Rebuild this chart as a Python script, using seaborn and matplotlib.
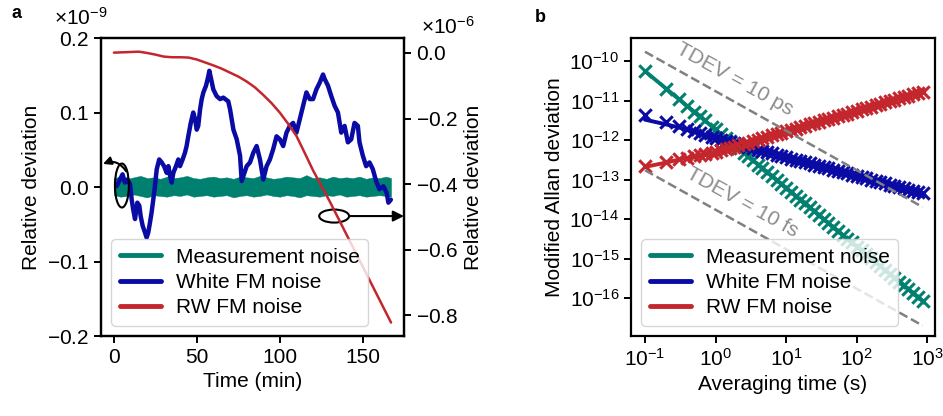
import numpy as np
import matplotlib
matplotlib.use("Agg")
import matplotlib.pyplot as plt
import seaborn as sns
from matplotlib.patches import Ellipse
from matplotlib.lines import Line2D
from matplotlib.ticker import NullLocator

# ---------------- panel a data ----------------
# measurement noise band (x1e-9): envelope of the dense white-noise trace
teal_t = [0, 4, 8, 12, 16, 20, 24, 28, 32, 36,
          40, 44, 48, 52, 56, 60, 64, 68, 72, 76,
          80, 84, 88, 92, 96, 100, 104, 108, 112, 116,
          120, 124, 128, 132, 136, 140, 144, 148, 152, 156,
          160, 164, 167]
teal_hi = [0.012, 0.014, 0.011, 0.013, 0.015, 0.012, 0.013, 0.011, 0.014, 0.012,
           0.013, 0.015, 0.012, 0.011, 0.013, 0.014, 0.012, 0.013, 0.011, 0.014,
           0.013, 0.012, 0.015, 0.013, 0.011, 0.012, 0.014, 0.013, 0.012, 0.016,
           0.012, 0.013, 0.011, 0.014, 0.012, 0.013, 0.012, 0.014, 0.011, 0.013,
           0.012, 0.014, 0.012]
teal_lo = [-0.011, -0.013, -0.012, -0.010, -0.012, -0.014, -0.011, -0.012, -0.013, -0.011,
           -0.012, -0.010, -0.013, -0.012, -0.011, -0.013, -0.012, -0.011, -0.014, -0.012,
           -0.011, -0.013, -0.012, -0.010, -0.012, -0.013, -0.011, -0.012, -0.014, -0.011,
           -0.012, -0.013, -0.011, -0.012, -0.010, -0.013, -0.012, -0.011, -0.013, -0.012,
           -0.011, -0.012, -0.013]

# white FM noise trace (x1e-9)
blue_t = [1.6, 3.6, 5.2, 6.6, 8.0, 9.7, 10.7, 11.6, 12.7, 14.1,
          15.3, 16.1, 17.3, 18.7, 19.7, 20.7, 21.7, 22.7, 23.7, 24.7,
          25.8, 27.3, 28.8, 30.2, 31.8, 32.8, 33.8, 34.8, 35.8, 37.4,
          38.8, 39.8, 41.4, 42.8, 43.8, 44.8, 46.3, 47.8, 48.9, 49.9,
          50.8, 51.9, 52.9, 53.9, 55.5, 56.9, 57.5, 59.9, 61.9, 64.0,
          65.9, 68.9, 70.0, 72.0, 74.0, 76.0, 77.0, 80.0, 82.0, 84.0,
          86, 88, 90, 92, 94, 96, 98, 100, 102, 104,
          106, 108, 110, 112, 114, 116, 118, 120, 122, 124,
          126, 127, 129, 131, 133, 135, 137, 139, 141, 143,
          145, 147, 148, 150, 152, 154, 156, 158, 160, 162.4,
          164.4, 165.4, 166.9]
blue_v = [0.001, 0.010, 0.017, 0.006, 0.010, 0.004, -0.017, -0.030, -0.043, -0.021,
          -0.025, -0.039, -0.052, -0.061, -0.068, -0.061, -0.048, -0.034, -0.017, 0.001,
          0.024, 0.037, 0.033, 0.028, 0.019, 0.028, 0.015, 0.006, 0.019, 0.028,
          0.037, 0.028, 0.037, 0.046, 0.055, 0.068, 0.086, 0.100, 0.091, 0.077,
          0.082, 0.104, 0.118, 0.127, 0.136, 0.149, 0.156, 0.131, 0.122, 0.118,
          0.120, 0.115, 0.104, 0.077, 0.064, 0.042, 0.008, 0.028, 0.033, 0.046,
          0.055, 0.037, 0.010, 0.028, 0.037, 0.051, 0.068, 0.064, 0.055, 0.073,
          0.082, 0.086, 0.073, 0.091, 0.109, 0.127, 0.118, 0.118, 0.131, 0.140,
          0.151, 0.145, 0.136, 0.122, 0.109, 0.100, 0.073, 0.082, 0.060, 0.064,
          0.086, 0.082, 0.060, 0.042, 0.028, 0.033, 0.024, 0.008, -0.003, 0.001,
          -0.008, -0.021, -0.017]

# RW FM noise trace (x1e-6, right axis)
red_t = [0, 5, 10, 15, 20, 25, 30, 35, 40, 45,
         50, 55, 60, 65, 70, 75, 80, 85, 90, 95,
         100, 105, 110, 115, 120, 125, 130, 135, 140, 145,
         150, 155, 160, 167]
red_v = [0.001, 0.002, 0.003, 0.004, 0.000, -0.005, -0.011, -0.013, -0.013, -0.014,
         -0.020, -0.029, -0.038, -0.048, -0.060, -0.072, -0.087, -0.105, -0.128, -0.153,
         -0.182, -0.216, -0.253, -0.305, -0.358, -0.405, -0.452, -0.502, -0.552, -0.602,
         -0.652, -0.702, -0.752, -0.822]

# ---------------- panel b data ----------------
tau = [0.1, 0.2, 0.3, 0.4, 0.5, 0.6, 0.7, 0.9, 1.0, 1.2,
       1.4, 1.6, 1.8, 2.1, 2.5, 2.9, 3.4, 4.0, 4.6, 5.4,
       6.3, 7.4, 8.6, 10, 11.7, 13.6, 15.8, 18.5, 21.5, 25.1,
       29.3, 34.1, 39.8, 46.4, 54.1, 63.1, 73.6, 85.8, 100, 117,
       136, 158, 185, 215, 251, 293, 341, 398, 464, 541,
       631, 736, 858]
mdev_meas = [5.6e-11, 2.0e-11, 1.1e-11, 7.2e-12, 5.2e-12, 4.0e-12, 3.2e-12, 2.2e-12, 1.86e-12, 1.42e-12,
             1.13e-12, 9.3e-13, 7.8e-13, 6.2e-13, 4.8e-13, 3.9e-13, 3.05e-13, 2.4e-13, 1.95e-13, 1.54e-13,
             1.22e-13, 9.6e-14, 7.7e-14, 6.2e-14, 4.9e-14, 3.9e-14, 3.1e-14, 2.5e-14, 2.0e-14, 1.58e-14,
             1.26e-14, 1.0e-14, 8.0e-15, 6.4e-15, 5.1e-15, 4.0e-15, 3.2e-15, 2.6e-15, 2.0e-15, 1.62e-15,
             1.29e-15, 1.04e-15, 8.2e-16, 6.6e-16, 5.2e-16, 4.2e-16, 3.3e-16, 2.6e-16, 2.1e-16, 1.68e-16,
             1.34e-16, 1.06e-16, 8.5e-17]
mdev_white = [4.4e-12, 2.9e-12, 2.3e-12, 1.92e-12, 1.68e-12, 1.51e-12, 1.37e-12, 1.18e-12, 1.11e-12, 1.02e-12,
              9.5e-13, 8.9e-13, 8.4e-13, 7.8e-13, 7.2e-13, 6.7e-13, 6.2e-13, 5.7e-13, 5.4e-13, 5.0e-13,
              4.6e-13, 4.3e-13, 4.0e-13, 3.7e-13, 3.4e-13, 3.2e-13, 3.0e-13, 2.8e-13, 2.6e-13, 2.4e-13,
              2.2e-13, 2.07e-13, 1.92e-13, 1.79e-13, 1.66e-13, 1.54e-13, 1.43e-13, 1.33e-13, 1.24e-13, 1.15e-13,
              1.07e-13, 1.0e-13, 9.2e-14, 8.6e-14, 8.0e-14, 7.4e-14, 6.9e-14, 6.4e-14, 6.0e-14, 5.5e-14,
              5.2e-14, 4.8e-14, 4.5e-14]
mdev_rw = [2.2e-13, 2.85e-13, 3.3e-13, 3.6e-13, 3.9e-13, 4.2e-13, 4.4e-13, 4.8e-13, 5.0e-13, 5.5e-13,
           6.0e-13, 6.4e-13, 6.8e-13, 7.4e-13, 8.1e-13, 8.7e-13, 9.5e-13, 1.03e-12, 1.11e-12, 1.21e-12,
           1.31e-12, 1.43e-12, 1.54e-12, 1.67e-12, 1.81e-12, 1.96e-12, 2.1e-12, 2.3e-12, 2.5e-12, 2.7e-12,
           2.9e-12, 3.2e-12, 3.4e-12, 3.7e-12, 4.0e-12, 4.4e-12, 4.7e-12, 5.1e-12, 5.5e-12, 6.0e-12,
           6.5e-12, 7.0e-12, 7.6e-12, 8.3e-12, 9.0e-12, 9.7e-12, 1.05e-11, 1.14e-11, 1.24e-11, 1.34e-11,
           1.45e-11, 1.57e-11, 1.70e-11]

fit_tau = [0.1, 0.2, 0.3, 0.5, 1, 10, 100, 858]
fit_meas = [5.6e-11, 2.0e-11, 1.1e-11, 5.2e-12, 1.86e-12, 6.2e-14, 2.0e-15, 8.5e-17]
fit_white = [3.3e-12, 2.5e-12, 2.1e-12, 1.6e-12, 1.1e-12, 3.7e-13, 1.22e-13, 4.5e-14]
fit_rw = [2.1e-13, 2.7e-13, 3.2e-13, 3.9e-13, 5.0e-13, 1.67e-12, 5.5e-12, 1.70e-11]

tdev_tau = [0.1, 858]
tdev_10ps = [1.73e-10, 2.02e-14]
tdev_10fs = [1.73e-13, 2.02e-17]

labels = ["Measurement noise", "White FM noise", "RW FM noise"]

TEAL = "#00806E"
BLUE = "#0A0AA5"
RED = "#C4262E"
GRAY = "#808080"
TGRAY = "#8C8C8C"

# ---------------- style ----------------
sns.set_style("ticks")
plt.rcParams.update({
    "font.family": ["Liberation Sans", "DejaVu Sans"],
    "font.size": 15,
    "mathtext.fontset": "custom",
    "mathtext.rm": "Liberation Sans",
    "mathtext.it": "Liberation Sans:italic",
    "mathtext.bf": "Liberation Sans:bold",
    "axes.linewidth": 1.6,
    "axes.edgecolor": "black",
    "axes.labelcolor": "black",
    "text.color": "black",
    "xtick.color": "black",
    "ytick.color": "black",
    "xtick.major.width": 1.4,
    "ytick.major.width": 1.4,
    "xtick.major.size": 5,
    "ytick.major.size": 5,
    "xtick.labelsize": 15,
    "ytick.labelsize": 15,
    "axes.labelsize": 15,
    "legend.fontsize": 15,
})

fig = plt.figure(figsize=(9.43, 4.16), dpi=100)
ax = fig.add_axes([0.1071, 0.1923, 0.3213, 0.7163])
axb = fig.add_axes([0.6691, 0.1923, 0.3224, 0.7163])

S9 = 1e-9
S6 = 1e-6

# ---------------- panel a ----------------
ax.fill_between(np.array(teal_t), np.array(teal_lo) * S9, np.array(teal_hi) * S9,
                color=TEAL, lw=0.3, zorder=2)
sns.lineplot(x=np.array(blue_t), y=np.array(blue_v) * S9, ax=ax, color=BLUE,
             lw=3.2, sort=False, estimator=None, zorder=3)
ax.set_xlim(-7.8, 174.8)
ax.set_ylim(-0.2 * S9, 0.2 * S9)
ax.set_xticks([0, 50, 100, 150])
ax.set_yticks(np.array([-0.2, -0.1, 0.0, 0.1, 0.2]) * S9)
ax.ticklabel_format(axis="y", style="sci", scilimits=(-9, -9), useMathText=True)
ax.set_xlabel("Time (min)")
ax.set_ylabel("Relative deviation")

ax2 = ax.twinx()
sns.lineplot(x=np.array(red_t), y=np.array(red_v) * S6, ax=ax2, color=RED,
             lw=1.8, sort=False, estimator=None)
ax2.set_ylim(-0.863 * S6, 0.0456 * S6)
ax2.set_yticks(np.array([0.0, -0.2, -0.4, -0.6, -0.8]) * S6)
ax2.ticklabel_format(axis="y", style="sci", scilimits=(-6, -6), useMathText=True)
ax2.set_ylabel("Relative deviation")
for sp in ax2.spines.values():
    sp.set_linewidth(1.6)

ax.yaxis.OFFSETTEXTPAD = 9.5
ax.yaxis.get_offset_text().set_horizontalalignment("right")
ax.yaxis.get_offset_text().set_x(0.023)
ax2.yaxis.get_offset_text().set_horizontalalignment("left")
ax2.yaxis.get_offset_text().set_x(1.056)

# annotations: ellipses + arrows
ax.add_patch(Ellipse((4.8, 0.002 * S9), width=8.4, height=0.059 * S9,
                     fill=False, ec="black", lw=1.5, zorder=6))
ax.annotate("", xy=(-6.6, 0.031 * S9), xytext=(7.4, 0.021 * S9),
            arrowprops=dict(arrowstyle="-|>", color="black", lw=1.5,
                            connectionstyle="arc3,rad=0.4", mutation_scale=12,
                            shrinkA=0, shrinkB=0),
            annotation_clip=False, zorder=6)
ax.add_patch(Ellipse((132.7, -0.039 * S9), width=18, height=0.0175 * S9,
                     fill=False, ec="black", lw=1.5, zorder=6))
ax.annotate("", xy=(174.8, -0.039 * S9), xytext=(141.7, -0.039 * S9),
            arrowprops=dict(arrowstyle="-|>", color="black", lw=1.5,
                            mutation_scale=16, shrinkA=0, shrinkB=0),
            annotation_clip=False, zorder=6)

handles = [Line2D([0], [0], color=c, lw=3.5) for c in (TEAL, BLUE, RED)]
leg = ax2.legend(handles, labels, loc="lower left", framealpha=0.8,
                 edgecolor="#cccccc", fancybox=True, handlelength=2.0,
                 handletextpad=0.7, borderaxespad=0.5, labelspacing=0.3)

# ---------------- panel b ----------------
MS = 80
MW = 2.2
sns.lineplot(x=fit_tau, y=fit_meas, ax=axb, color=TEAL, lw=2.8, estimator=None, zorder=2)
sns.scatterplot(x=tau, y=mdev_meas, ax=axb, color=TEAL, marker="x", s=MS,
                linewidth=MW, zorder=3)
sns.lineplot(x=fit_tau, y=fit_white, ax=axb, color=BLUE, lw=2.8, estimator=None, zorder=2)
sns.scatterplot(x=tau, y=mdev_white, ax=axb, color=BLUE, marker="x", s=MS,
                linewidth=MW, zorder=3)
sns.lineplot(x=fit_tau, y=fit_rw, ax=axb, color=RED, lw=2.8, estimator=None, zorder=2)
sns.scatterplot(x=tau, y=mdev_rw, ax=axb, color=RED, marker="x", s=MS,
                linewidth=MW, zorder=3)
sns.lineplot(x=tdev_tau, y=tdev_10ps, ax=axb, color=GRAY, lw=1.8, linestyle="--",
             estimator=None, zorder=4)
sns.lineplot(x=tdev_tau, y=tdev_10fs, ax=axb, color=GRAY, lw=1.8, linestyle="--",
             estimator=None, zorder=4)

axb.set_xscale("log")
axb.set_yscale("log")
axb.set_xlim(0.0634, 1285)
axb.set_ylim(1.1e-17, 3.84e-10)
axb.set_xticks([1e-1, 1e0, 1e1, 1e2, 1e3])
axb.set_yticks([1e-16, 1e-15, 1e-14, 1e-13, 1e-12, 1e-11, 1e-10])
axb.xaxis.set_minor_locator(NullLocator())
axb.yaxis.set_minor_locator(NullLocator())
axb.set_xlabel("Averaging time (s)")
axb.set_ylabel("Modified Allan deviation")

axb.text(1.88, 3.5e-11, "TDEV = 10 ps", rotation=-29, color=TGRAY,
         ha="center", va="center", rotation_mode="anchor", fontsize=15)
axb.text(2.37, 2.65e-14, "TDEV = 10 fs", rotation=-29, color=TGRAY,
         ha="center", va="center", rotation_mode="anchor", fontsize=15)

handles_b = [Line2D([0], [0], color=c, lw=3.5) for c in (TEAL, BLUE, RED)]
axb.legend(handles_b, labels, loc="lower left", framealpha=0.8,
           edgecolor="#cccccc", fancybox=True, handlelength=2.0,
           handletextpad=0.7, borderaxespad=0.5, labelspacing=0.3)

fig.text(12 / 943, 1 - 18.3 / 416, "a", weight="bold", fontsize=13, va="baseline")
fig.text(535 / 943, 1 - 21.7 / 416, "b", weight="bold", fontsize=13, va="baseline")

fig.savefig("out.png", dpi=100)
